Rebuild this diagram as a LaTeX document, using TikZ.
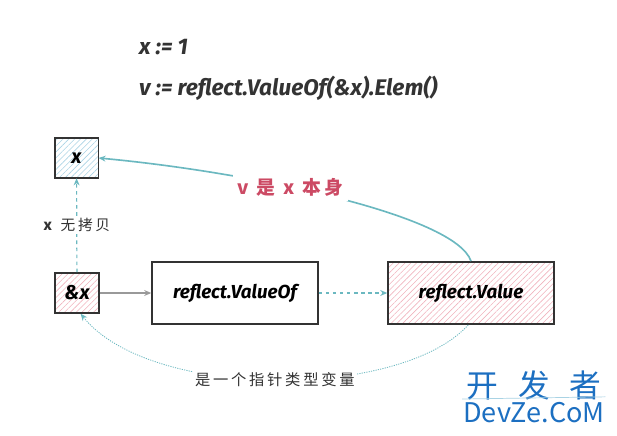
\documentclass[tikz,border=0pt]{standalone}
\usepackage{fontspec}
\setmainfont{Fira Sans}
\newfontfamily\cjk{Noto Sans CJK SC}
\newfontfamily\cjkwide[LetterSpace=18]{Noto Sans CJK SC}
\usetikzlibrary{arrows.meta, positioning, patterns.meta}
\definecolor{ink}{HTML}{333333}
\definecolor{link}{HTML}{6bb8c0}
\definecolor{hint}{HTML}{cc4a64}
\definecolor{hatchblue}{HTML}{a9d3e4}
\definecolor{hatchpink}{HTML}{f0b3bd}
\definecolor{mark}{HTML}{1c6fc1}
\tikzstyle{smallbox} = [rectangle, draw=ink, line width=1.3pt, minimum width=37pt,
                        minimum height=34pt, font=\fontsize{17}{20}\selectfont\bfseries\itshape]
\tikzstyle{bigbox}   = [rectangle, draw=ink, line width=1.3pt, minimum width=141pt,
                        minimum height=53pt, font=\fontsize{16}{19}\selectfont\bfseries\itshape]
\tikzstyle{code}     = [anchor=base west, font=\fontsize{19.2}{22}\selectfont\bfseries\itshape, text=ink]
\tikzstyle{note}     = [fill=white, inner sep=2pt, text=ink, font=\cjkwide\fontsize{12.5}{14}\selectfont]
\tikzstyle{arrow}    = [-{Stealth[length=6pt, width=5pt]}, line width=1pt]

\begin{document}
\begin{tikzpicture}[x=0.85pt, y=-0.85pt]
  \useasboundingbox (0,0) rectangle (617,435);

  %% Code lines
  \node[code] (l1) at (135,55) {x := 1};
  \node[code] (l2) at (135,95) {v := reflect.ValueOf(\&x).Elem()};

  %% Boxes
  \node[smallbox, pattern={Lines[angle=45, distance=3.5pt, line width=0.5pt]},
        pattern color=hatchblue] (x) at (76.5,158) {};
  \node[smallbox] at (x) {x};
  \node[smallbox, pattern={Lines[angle=45, distance=3.5pt, line width=0.5pt]},
        pattern color=hatchpink] (ax) at (77,293) {};
  \node[smallbox] at (ax) {\&x};
  \node[bigbox] (vof) at (235,293) {reflect.ValueOf};
  \node[bigbox, pattern={Lines[angle=45, distance=3.5pt, line width=0.5pt]},
        pattern color=hatchpink] (val) at (471,293) {};
  \node[bigbox] at (val) {reflect.Value};

  %% Arrows
  \draw[arrow, color=gray!80] (ax) -- (vof);
  \draw[arrow, color=link, dashed, line width=1.3pt] (vof) -- (val);
  \draw[arrow, color=link, dashed] (ax) -- node[note] {\textbf{\itshape x} 无拷贝} (x);
  \draw[arrow, color=link, line width=1.4pt] (val.north) .. controls (455,215) and (250,172)
        .. node[pos=0.6, fill=white, text=hint, inner sep=4pt,
                font=\cjkwide\fontsize{16}{18}\selectfont\bfseries] {v 是 x 本身} (x.east);
  \draw[arrow, color=link, densely dotted, line width=0.7pt] (val.-95) .. controls (400,400) and (150,400)
        .. node[note, font=\cjkwide\fontsize{13}{16}\selectfont] {是一个指针类型变量} (ax.-80);

  %% Watermark
  \node[text=mark, font=\cjk\fontsize{27}{28}\selectfont] (wm1) at (534,385) {开\ \ \,发\ \ \,者};
  \node[text=mark, font=\cjk\fontsize{23}{26}\selectfont, below=-5pt of wm1] (wm2) {DevZe.CoM};
  \draw[hatchblue, line width=0.6pt] (wm2.north west) ++(3,1) -- ([xshift=-3pt, yshift=1pt]wm2.north east);
\end{tikzpicture}
\end{document}
